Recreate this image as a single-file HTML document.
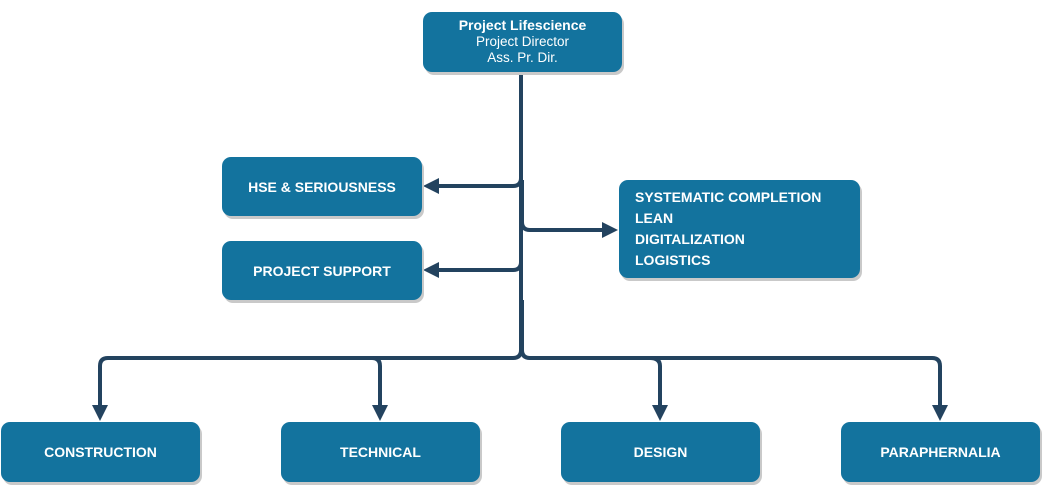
<!DOCTYPE html>
<html><head><style>
body{margin:0;width:1044px;height:487px;background:#fff;font-family:"Liberation Sans",sans-serif;position:relative;overflow:hidden}
.b{position:absolute;background:#13739e;border-radius:9px;box-shadow:2px 3px 0 #c9c9c9;color:#fff;font-weight:bold;font-size:14px;display:flex;align-items:center;justify-content:center;text-align:center}
svg{position:absolute;left:0;top:0}
</style></head><body>
<svg width="1044" height="487" fill="none" stroke="#23435f" stroke-width="4">
<path d="M521 72 V178 Q521 186 513 186 H436"/>
<path d="M521 178 V262 Q521 270 513 270 H436"/>
<path d="M522 180 V222 Q522 230 530 230 H606"/>
<path d="M521 250 V350 Q521 358 513 358 H108 Q100 358 100 366 V408"/>
<path d="M280 358 H372 Q380 358 380 366 V408"/>
<path d="M522 300 V350 Q522 358 530 358 H932 Q940 358 940 366 V408"/>
<path d="M650 358 Q660 358 660 366 V408"/>
<g fill="#23435f" stroke="none">
<polygon points="423,186 439,178 439,194"/>
<polygon points="423,270 439,262 439,278"/>
<polygon points="618,230 602,222 602,238"/>
<polygon points="100,421 92,405 108,405"/>
<polygon points="380,421 372,405 388,405"/>
<polygon points="660,421 652,405 668,405"/>
<polygon points="940,421 932,405 948,405"/>
</g>
</svg>
<div class="b" style="left:423px;top:12px;width:199px;height:60px;flex-direction:column;font-size:13.5px;line-height:16.5px"><div style="font-size:14px">Project Lifescience</div><div style="font-weight:normal">Project Director</div><div style="font-weight:normal">Ass. Pr. Dir.</div></div>
<div class="b" style="left:222px;top:157px;width:200px;height:59px">HSE &amp; SERIOUSNESS</div>
<div class="b" style="left:222px;top:241px;width:200px;height:59px">PROJECT SUPPORT</div>
<div class="b" style="left:619px;top:180px;width:241px;height:98px;justify-content:flex-start;text-align:left;padding-left:16px;box-sizing:border-box;line-height:21px"><div>SYSTEMATIC COMPLETION<br>LEAN<br>DIGITALIZATION<br>LOGISTICS</div></div>
<div class="b" style="left:1px;top:422px;width:199px;height:60px">CONSTRUCTION</div>
<div class="b" style="left:281px;top:422px;width:199px;height:60px">TECHNICAL</div>
<div class="b" style="left:561px;top:422px;width:199px;height:60px">DESIGN</div>
<div class="b" style="left:841px;top:422px;width:199px;height:60px">PARAPHERNALIA</div>
</body></html>
